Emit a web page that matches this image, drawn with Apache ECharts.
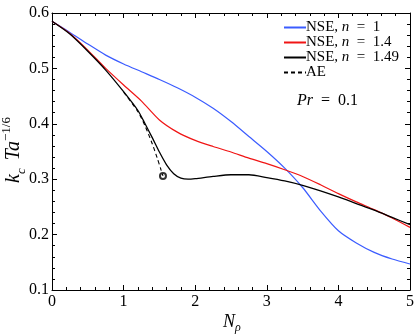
<!DOCTYPE html>
<html>
<head>
<meta charset="utf-8">
<script src="https://cdn.jsdelivr.net/npm/echarts@6/dist/echarts.min.js"></script>
<style>
	html, body { margin: 0; padding: 0; background: #fff; }
	#mychart { width: 420px; height: 334px; }
</style>
</head>
<body>
<div id="mychart"></div>
<script>
// n = 1
var n1X = [0, 0.25, 0.5, 0.75, 1.0, 1.25, 1.5, 1.75, 2.0, 2.25, 2.5, 2.75, 3.0, 3.25, 3.5, 3.75, 4.0, 4.25, 4.5, 4.75, 5.0];
var n1Y = [0.585, 0.565, 0.544, 0.524, 0.508, 0.494, 0.480, 0.465, 0.448, 0.428, 0.404, 0.377, 0.350, 0.320, 0.285, 0.243, 0.207, 0.185, 0.168, 0.156, 0.147];
// n = 1.4
var n14X = [0, 0.25, 0.5, 0.75, 1.0, 1.25, 1.5, 1.75, 2.0, 2.25, 2.5, 2.75, 3.0, 3.25, 3.5, 3.75, 4.0, 4.25, 4.5, 4.75, 5.0];
var n14Y = [0.585, 0.563, 0.533, 0.500, 0.470, 0.441, 0.407, 0.385, 0.370, 0.359, 0.349, 0.338, 0.328, 0.317, 0.305, 0.290, 0.274, 0.259, 0.245, 0.230, 0.213];
// n = 1.49
var n149X = [0, 0.25, 0.5, 0.75, 1.0, 1.2, 1.3, 1.4, 1.5, 1.6, 1.7, 1.8, 1.9, 2.0, 2.25, 2.5, 2.75, 3.0, 3.25, 3.5, 3.75, 4.0, 4.25, 4.5, 4.75, 5.0];
var n149Y = [0.585, 0.562, 0.531, 0.497, 0.458, 0.424, 0.400, 0.375, 0.349, 0.326, 0.310, 0.302, 0.300, 0.301, 0.305, 0.308, 0.308, 0.303, 0.297, 0.289, 0.279, 0.268, 0.256, 0.244, 0.231, 0.218];
// AE
var aeX = [1.0, 1.2, 1.3, 1.4, 1.47, 1.52, 1.55];
var aeY = [0.457, 0.422, 0.396, 0.364, 0.338, 0.318, 0.306];

var names = ['NSE, n = 1', 'NSE, n = 1.4', 'NSE, n = 1.49', 'AE'];
var xTicks = [0, 1, 2, 3, 4, 5];
var yTicks = [0.1, 0.2, 0.3, 0.4, 0.5, 0.6];

var serif = '"Liberation Serif", "DejaVu Serif", serif';

function zip(xs, ys) {
	var out = [];
	for (var i = 0; i < xs.length; i++) {
		out.push([xs[i], ys[i]]);
	}
	return out;
}

var myChart = echarts.init(document.getElementById('mychart'));

function makeXAxis(pos, showLabel) {
	return {
		type: 'value',
		position: pos,
		min: xTicks[0],
		max: xTicks[xTicks.length - 1],
		interval: 1,
		axisLine: { show: true, onZero: false, lineStyle: { color: '#000', width: 1 } },
		axisTick: { show: true, inside: true, length: 5, lineStyle: { color: '#000' } },
		minorTick: { show: true, splitNumber: 5, length: 3, lineStyle: { color: '#000' } },
		splitLine: { show: false },
		axisLabel: {
			show: showLabel,
			fontFamily: serif,
			fontSize: 16,
			color: '#000',
			margin: 4
		}
	};
}

function makeYAxis(pos, showLabel) {
	return {
		type: 'value',
		position: pos,
		min: yTicks[0],
		max: yTicks[yTicks.length - 1],
		interval: 0.1,
		axisLine: { show: true, onZero: false, lineStyle: { color: '#000', width: 1 } },
		axisTick: { show: true, inside: true, length: 5, lineStyle: { color: '#000' } },
		minorTick: { show: true, splitNumber: 5, length: 3, lineStyle: { color: '#000' } },
		splitLine: { show: false },
		axisLabel: {
			show: showLabel,
			fontFamily: serif,
			fontSize: 16,
			color: '#000',
			margin: 3,
			formatter: function(v) { return v.toFixed(1); }
		}
	};
}

var option = {
	animation: false,
	backgroundColor: '#fff',
	grid: { left: 52, right: 10, top: 13, bottom: 44 },
	xAxis: [makeXAxis('bottom', true), makeXAxis('top', false)],
	yAxis: [makeYAxis('left', true), makeYAxis('right', false)],
	legend: {
		left: 283,
		top: 20,
		orient: 'vertical',
		align: 'left',
		itemWidth: 22,
		itemHeight: 10,
		itemGap: 0,
		padding: 0,
		data: names,
		itemStyle: { opacity: 0 },
		textStyle: {
			fontFamily: serif,
			fontSize: 15,
			lineHeight: 13,
			color: '#000',
			padding: [0, 0, 0, -5],
			rich: {
				r: { fontFamily: serif, fontSize: 15, lineHeight: 13, color: '#000' },
				i: { fontFamily: serif, fontSize: 15, lineHeight: 13, color: '#000', fontStyle: 'italic' }
			}
		},
		formatter: function(name) {
			var m = name.match(/^NSE, n = (.*)$/);
			if (m) {
				return '{r|NSE, }{i|n}{r|  =  ' + m[1] + '}';
			}
			return '{r|' + name + '}';
		}
	},
	graphic: [
		{
			type: 'text',
			x: 14,
			y: 150,
			rotation: Math.PI / 2,
			style: {
				text: '{i|k}{sub|c}{i| Ta}{sup|−1/6}',
				align: 'center',
				verticalAlign: 'middle',
				rich: {
					i: { fontFamily: serif, fontSize: 20, fontStyle: 'italic', fill: '#000', lineHeight: 28, verticalAlign: 'middle' },
					sub: { fontFamily: serif, fontSize: 13, fontStyle: 'italic', fill: '#000', lineHeight: 28, verticalAlign: 'bottom', padding: [0, 3, 0, 0] },
					sup: { fontFamily: serif, fontSize: 13, fill: '#000', lineHeight: 28, verticalAlign: 'top' }
				}
			}
		},
		{
			type: 'text',
			x: 232,
			y: 322,
			style: {
				text: '{i|N}{sub|ρ}',
				align: 'center',
				verticalAlign: 'middle',
				rich: {
					i: { fontFamily: serif, fontSize: 18, fontStyle: 'italic', fill: '#000', lineHeight: 24, verticalAlign: 'middle' },
					sub: { fontFamily: serif, fontSize: 12, fontStyle: 'italic', fill: '#000', lineHeight: 24, verticalAlign: 'bottom' }
				}
			}
		},
		{
			type: 'text',
			x: 297,
			y: 101,
			style: {
				text: '{i|Pr}{r|  =  0.1}',
				verticalAlign: 'middle',
				rich: {
					i: { fontFamily: serif, fontSize: 16, fontStyle: 'italic', fill: '#000' },
					r: { fontFamily: serif, fontSize: 16, fill: '#000' }
				}
			}
		}
	],
	series: [
		{
			name: names[0],
			type: 'line',
			data: zip(n1X, n1Y),
			smooth: 0.25,
			symbol: 'none',
			lineStyle: { color: '#3b5cff', width: 1.2 },
			itemStyle: { color: '#3b5cff' }
		},
		{
			name: names[1],
			type: 'line',
			data: zip(n14X, n14Y),
			smooth: 0.25,
			symbol: 'none',
			lineStyle: { color: '#f01515', width: 1.2 },
			itemStyle: { color: '#f01515' }
		},
		{
			name: names[3],
			type: 'line',
			data: zip(aeX, aeY),
			smooth: 0.25,
			symbol: 'none',
			lineStyle: { color: '#000', width: 1.1, type: [4, 3] },
			itemStyle: { color: '#000' }
		},
		{
			name: names[2],
			type: 'line',
			data: zip(n149X, n149Y),
			smooth: 0.25,
			symbol: 'none',
			lineStyle: { color: '#000', width: 1.3 },
			itemStyle: { color: '#000' }
		},
		{
			name: 'AE end',
			type: 'scatter',
			data: [[aeX[aeX.length - 1], aeY[aeY.length - 1]]],
			symbol: 'emptyCircle',
			symbolSize: 6,
			itemStyle: { color: '#000', borderColor: '#000', borderWidth: 1 }
		}
	]
};
myChart.setOption(option);
window.onresize = myChart.resize;
</script>
</body>
</html>
